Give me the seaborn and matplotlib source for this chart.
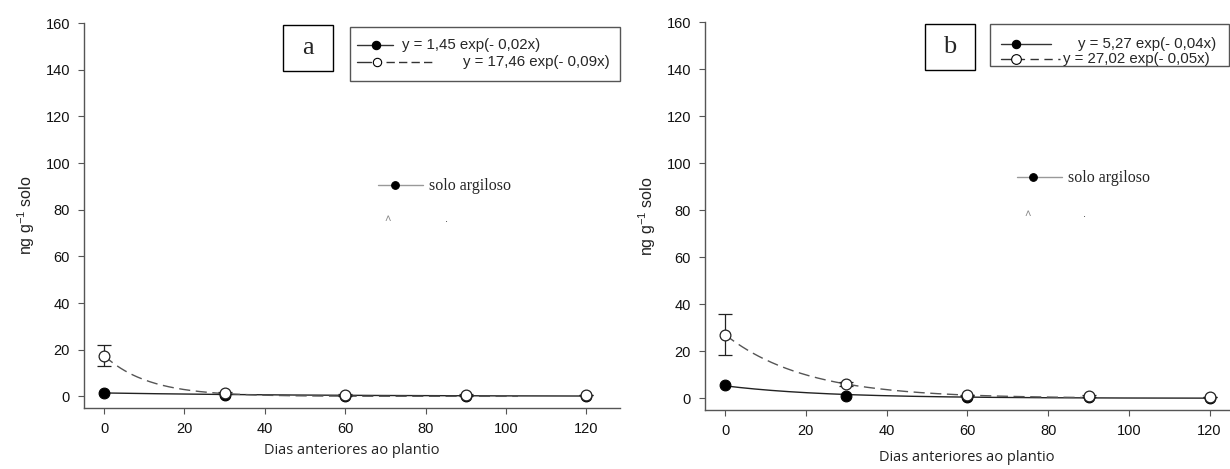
import numpy as np
import pandas as pd
import matplotlib
matplotlib.use("Agg")
import matplotlib.pyplot as plt
from matplotlib.patches import Rectangle
from matplotlib.lines import Line2D
import seaborn as sns

# ---------------- data ----------------
days = [0, 30, 60, 90, 120]

a_argiloso = [1.5, 0.4, 0.3, 0.3, 0.1]
a_arenoso = [17.5, 1.4, 0.6, 0.5, 0.4]
a_arenoso_err = [4.5, 0.5, 0.3, 0.3, 0.0]

b_argiloso = [5.5, 1.0, 0.6, 0.6, 0.1]
b_arenoso = [27.0, 6.0, 1.2, 1.0, 0.6]
b_arenoso_err = [8.8, 1.0, 0.3, 0.3, 0.0]

# fitted models y = A exp(-k x) as printed in the legends
a_fit_arg = (1.45, 0.02)
a_fit_are = (17.46, 0.09)
b_fit_arg = (5.27, 0.04)
b_fit_are = (27.02, 0.05)

a_labels = ["y = 1,45 exp(- 0,02x)", "y = 17,46 exp(- 0,09x)"]
b_labels = ["y = 5,27 exp(- 0,04x)", "y = 27,02 exp(- 0,05x)"]

yticks = [0, 20, 40, 60, 80, 100, 120, 140, 160]
xticks = [0, 20, 40, 60, 80, 100, 120]

# ---------------- style ----------------
sns.set_theme(style="ticks")
plt.rcParams['font.family'] = ['Liberation Sans', 'DejaVu Sans']

W, H = 1230, 469
fig = plt.figure(figsize=(W / 100, H / 100), dpi=100)


def fx(px):
    return px / W


def fy(py):
    return 1 - py / H


def make_axes(left, right, top, bottom):
    return fig.add_axes([fx(left), fy(bottom), fx(right) - fx(left), fy(top) - fy(bottom)])


def draw_panel(ax, arg, are, are_err, fit_arg, fit_are, x_end_are, xlim, xlabelpad):
    xs1 = np.linspace(0, 120, 200)
    xs2 = np.linspace(0, x_end_are, 200)
    df1 = pd.DataFrame({"x": xs1, "y": fit_arg[0] * np.exp(-fit_arg[1] * xs1)})
    df2 = pd.DataFrame({"x": xs2, "y": fit_are[0] * np.exp(-fit_are[1] * xs2)})
    sns.lineplot(data=df1, x="x", y="y", ax=ax, color="#222222", lw=1.0, zorder=2)
    sns.lineplot(data=df2, x="x", y="y", ax=ax, color="#555555", lw=1.0,
                 dashes=False, linestyle=(0, (8, 4)), zorder=2)
    ax.errorbar(days, are, yerr=are_err, fmt="none", ecolor="#222222",
                elinewidth=0.9, capsize=5, capthick=0.9, zorder=3)
    dpts = pd.DataFrame({"d": days, "arg": arg, "are": are})
    sns.scatterplot(data=dpts, x="d", y="arg", ax=ax, color="black", s=60,
                    edgecolor="black", linewidth=0.8, zorder=4)
    sns.scatterplot(data=dpts, x="d", y="are", ax=ax, color="white", s=60,
                    edgecolor="#222222", linewidth=0.9, zorder=5)

    ax.set_xlim(*xlim)
    ax.set_ylim(-5, 160)
    ax.set_xticks(xticks)
    ax.set_yticks(yticks)
    for s in ["top", "right"]:
        ax.spines[s].set_visible(False)
    for s in ["left", "bottom"]:
        ax.spines[s].set_color("#555555")
        ax.spines[s].set_linewidth(1.0)
    ax.tick_params(axis="both", direction="out", length=4, width=0.8,
                   color="#555555", labelsize=10.5, labelcolor="#111111", pad=6)
    ax.set_xlabel("Dias anteriores ao plantio", fontsize=10.5,
                  family=["Open Sans", "DejaVu Sans"], color="#222222", labelpad=xlabelpad)
    ax.set_ylabel("ng g$^{\\mathregular{-1}}$ solo", fontsize=11.5, color="#222222", labelpad=6)


ax_a = make_axes(84, 620, 23, 408)
draw_panel(ax_a, a_argiloso, a_arenoso, a_arenoso_err, a_fit_arg, a_fit_are, 103,
           (-5, 128.4), 5)

ax_b = make_axes(705, 1229, 22, 410)
draw_panel(ax_b, b_argiloso, b_arenoso, b_arenoso_err, b_fit_arg, b_fit_are, 91,
           (-5, 124.8), 9)


# ---------------- annotation boxes / legends (figure coords) ----------------
def rect(x0, y0, x1, y1, ec="black", lw=1.0):
    fig.add_artist(Rectangle((fx(x0), fy(y1)), fx(x1) - fx(x0), fy(y0) - fy(y1),
                             transform=fig.transFigure, fill=True, fc="white",
                             ec=ec, lw=lw, zorder=10))


def hline(x0, x1, y, ls="-", color="#333333"):
    fig.add_artist(Line2D([fx(x0), fx(x1)], [fy(y), fy(y)], transform=fig.transFigure,
                          color=color, lw=1.0, linestyle=ls, zorder=11))


def marker(x, y, filled=True, ms=6):
    fig.add_artist(Line2D([fx(x)], [fy(y)], transform=fig.transFigure, marker="o",
                          ms=ms, mfc="black" if filled else "white", mec="black",
                          mew=0.8, lw=0, zorder=12))


serif = ["Liberation Serif", "DejaVu Serif"]
eq_fs = 10.8

# panel a letter box
rect(283, 25, 333, 71)
fig.text(fx(308), fy(48), "a", ha="center", va="center", fontsize=19, family=serif, zorder=12)
# panel a equation legend
rect(350, 27, 620, 81, ec="#555555")
hline(357, 393, 45)
marker(376, 45, True)
fig.text(fx(402), fy(45), a_labels[0], ha="left", va="center", fontsize=eq_fs, zorder=12)
hline(357, 371, 62)
marker(377, 62, False)
hline(386, 434, 62, ls=(0, (6, 3)))
fig.text(fx(463), fy(62), a_labels[1], ha="left", va="center", fontsize=eq_fs, zorder=12)

# panel a series label
hline(378, 423, 185, color="#999999")
marker(395, 185, True, ms=5.5)
fig.text(fx(429), fy(186), "solo argiloso", ha="left", va="center", fontsize=11.5,
         family=serif, zorder=12)
fig.text(fx(388), fy(219), "\u02c4", ha="center", va="center", fontsize=8,
         color="#888888", zorder=12)
fig.text(fx(446), fy(219), ".", ha="center", va="center", fontsize=8,
         color="#333333", zorder=12)

# panel b letter box
rect(925, 24, 975, 70)
fig.text(fx(950), fy(47), "b", ha="center", va="center", fontsize=19, family=serif, zorder=12)
# panel b equation legend
rect(990, 24, 1229, 66, ec="#555555")
hline(1001, 1051, 44)
marker(1016, 44, True)
fig.text(fx(1078), fy(44), b_labels[0], ha="left", va="center", fontsize=eq_fs, zorder=12)
hline(1001, 1024, 59)
marker(1016, 59, False, ms=7)
hline(1030, 1060, 59, ls=(0, (6, 4)))
fig.text(fx(1063), fy(59), b_labels[1], ha="left", va="center", fontsize=eq_fs, zorder=12)

# panel b series label
hline(1017, 1062, 177, color="#999999")
marker(1033, 177, True, ms=5.5)
fig.text(fx(1068), fy(178), "solo argiloso", ha="left", va="center", fontsize=11.5,
         family=serif, zorder=12)
fig.text(fx(1028), fy(214), "\u02c4", ha="center", va="center", fontsize=8,
         color="#888888", zorder=12)
fig.text(fx(1085), fy(214), ".", ha="center", va="center", fontsize=8,
         color="#333333", zorder=12)

fig.savefig("out.png", dpi=100, facecolor="white")
